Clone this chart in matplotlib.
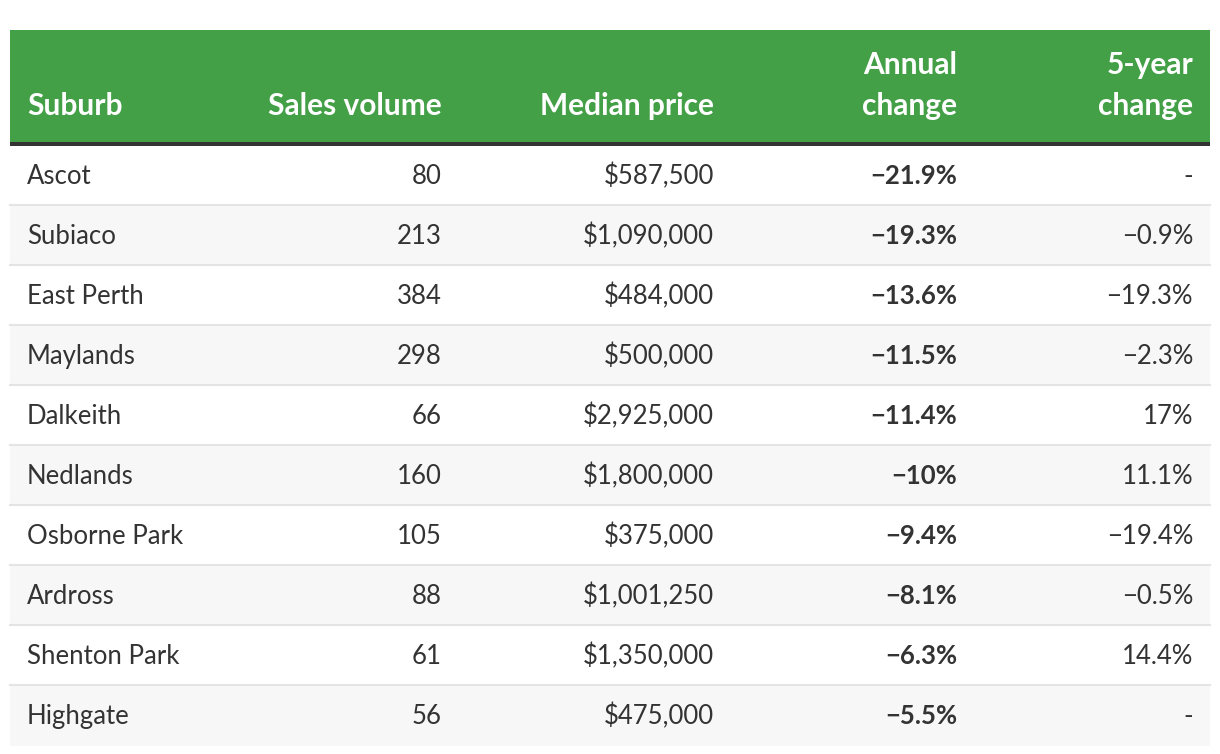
import matplotlib.pyplot as plt

suburbs = ['Ascot', 'Subiaco', 'East Perth', 'Maylands', 'Dalkeith', 'Nedlands',
           'Osborne Park', 'Ardross', 'Shenton Park', 'Highgate']
sales_volume = [80, 213, 384, 298, 66, 160, 105, 88, 61, 56]
median_price = [587500, 1090000, 484000, 500000, 2925000, 1800000, 375000, 1001250, 1350000, 475000]
annual_change = ['\u221221.9%', '\u221219.3%', '\u221213.6%', '\u221211.5%', '\u221211.4%',
                 '\u221210%', '\u22129.4%', '\u22128.1%', '\u22126.3%', '\u22125.5%']
five_year_change = ['-', '\u22120.9%', '\u221219.3%', '\u22122.3%', '17%', '11.1%',
                    '\u221219.4%', '\u22120.5%', '14.4%', '-']

headers = ['Suburb', 'Sales volume', 'Median price', 'Annual\nchange', '5-year\nchange']

green = '#43a047'
text_col = '#333333'
plt.rcParams['font.family'] = ['Lato', 'DejaVu Sans']

fig = plt.figure(figsize=(12.2, 7.54), dpi=100)
ax = fig.add_axes([0, 0, 1, 1])
ax.set_xlim(0, 1220)
ax.set_ylim(754, 0)
ax.axis('off')

left, right = 10, 1210
head_top, head_bot = 30, 142
row_top, pitch = 146, 60

# header
ax.fill_between([left, right], head_top, head_bot, color=green, lw=0)
ax.fill_between([left, right], head_bot, row_top, color='#333333', lw=0)

col_x = [27, 442, 714, 957, 1193]
col_ha = ['left', 'right', 'right', 'right', 'right']
for h, x, ha in zip(headers, col_x, col_ha):
    ax.text(x, 115, h, ha=ha, va='baseline', color='white', fontsize=21.5,
            fontweight='bold', linespacing=1.55)

# rows
for i, name in enumerate(suburbs):
    y0 = row_top + i * pitch
    if i % 2 == 1:
        ax.fill_between([left, right], y0, y0 + pitch, color='#f7f7f7', lw=0)
    if i < len(suburbs) - 1:
        ax.plot([left, right], [y0 + pitch - 1, y0 + pitch - 1], color='#e4e4e4', lw=1.5)
    vals = [name, str(sales_volume[i]), '${:,}'.format(median_price[i]),
            annual_change[i], five_year_change[i]]
    for j, (v, x, ha) in enumerate(zip(vals, col_x, col_ha)):
        ax.text(x, y0 + 38, v, ha=ha, va='baseline', color=text_col, fontsize=18.5,
                fontweight='bold' if j == 3 else 'normal')

fig.savefig('out.png', dpi=100)
